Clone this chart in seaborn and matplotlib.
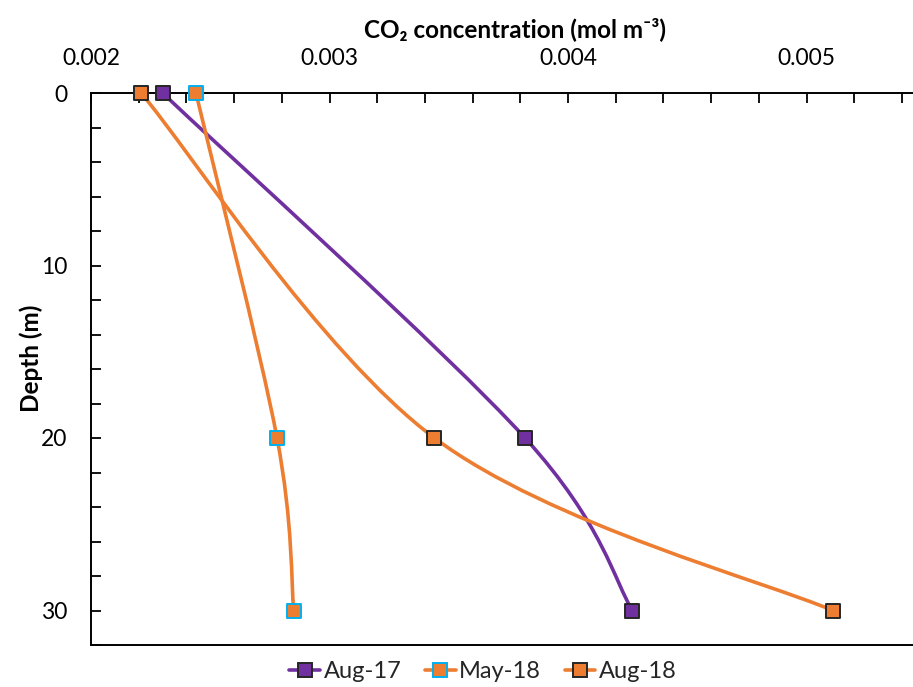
import numpy as np
import pandas as pd
import seaborn as sns
import matplotlib.pyplot as plt
from matplotlib.path import Path
from matplotlib.patches import PathPatch
from matplotlib.lines import Line2D
from matplotlib.ticker import MultipleLocator, FormatStrFormatter

# Depth profiles of dissolved CO2
depth = [0, 20, 30]
aug17 = [0.00230, 0.00382, 0.00427]
may18 = [0.00244, 0.00278, 0.00285]
aug18 = [0.00221, 0.00344, 0.00511]
series_names = ["Aug-17", "May-18", "Aug-18"]
x_ticks = [0.002, 0.003, 0.004, 0.005]
y_ticks = [0, 10, 20, 30]

PURPLE = "#7030A0"
ORANGE = "#ED7D31"
CYAN = "#00B0F0"
EDGE = "#262626"

styles = {
    "Aug-17": dict(line=PURPLE, face=PURPLE, edge=EDGE),
    "May-18": dict(line=ORANGE, face=ORANGE, edge=CYAN),
    "Aug-18": dict(line=ORANGE, face=ORANGE, edge=EDGE),
}

df = pd.DataFrame({
    "series": np.repeat(series_names, len(depth)),
    "depth": depth * 3,
    "co2": aug17 + may18 + aug18,
})

sns.set_theme(style="white")
plt.rcParams["font.family"] = ["Lato", "DejaVu Sans"]

fig = plt.figure(figsize=(9.13, 6.87), dpi=100)
ax = fig.add_axes([91 / 913, 1 - 645 / 687, 1 - 91 / 913, (645 - 93) / 687])


def smooth_path(xs, ys):
    """Cubic Bezier path through the points (Catmull-Rom style tangents)."""
    pts = np.column_stack([xs, ys]).astype(float)
    n = len(pts)
    verts, codes = [pts[0]], [Path.MOVETO]
    for i in range(n - 1):
        p0 = pts[max(i - 1, 0)]
        p1, p2 = pts[i], pts[i + 1]
        p3 = pts[min(i + 2, n - 1)]
        c1 = p1 + (p2 - p0) / 6.0
        c2 = p2 - (p3 - p1) / 6.0
        verts += [c1, c2, p2]
        codes += [Path.CURVE4] * 3
    return Path(verts, codes)


for name in series_names:
    sub = df[df["series"] == name]
    st = styles[name]
    ax.add_patch(PathPatch(smooth_path(sub["co2"].values, sub["depth"].values),
                           facecolor="none", edgecolor=st["line"], lw=2.6,
                           capstyle="round", zorder=2))

for name in series_names:
    sub = df[df["series"] == name]
    st = styles[name]
    sns.scatterplot(data=sub, x="co2", y="depth", ax=ax, marker="s", s=115,
                    color=st["face"], edgecolor=st["edge"], linewidth=1.4,
                    zorder=3, legend=False, clip_on=False)

ax.set_xlim(0.002, 0.002 + 822 / 238.5 * 0.001)
ax.set_ylim(32, 0)
ax.xaxis.tick_top()
ax.xaxis.set_label_position("top")
ax.set_xticks(x_ticks)
ax.xaxis.set_major_formatter(FormatStrFormatter("%.3f"))
ax.xaxis.set_minor_locator(MultipleLocator(0.0002))
ax.set_yticks(y_ticks)
ax.yaxis.set_minor_locator(MultipleLocator(2))

ax.tick_params(axis="x", which="both", direction="in", length=7, width=1.3,
               color="black", top=True, bottom=False, labelsize=16.5, pad=17,
               labelcolor="black")
ax.tick_params(axis="y", which="both", direction="in", length=7, width=1.3,
               color="black", left=True, right=False, labelsize=16.5, pad=17,
               labelcolor="black")

for side in ["top", "left", "bottom"]:
    ax.spines[side].set_visible(True)
    ax.spines[side].set_color("black")
    ax.spines[side].set_linewidth(1.4)
ax.spines["right"].set_visible(False)

ax.set_xlabel("CO\u2082 concentration (mol m\u207b\u00b3)", fontsize=17.5,
              fontweight="bold", color="black")
ax.xaxis.set_label_coords(0.516, 1.0 + (93 - 41) / 552)
ax.set_ylabel("Depth (m)", fontsize=17.5, fontweight="bold", color="black")
ax.yaxis.set_label_coords(-(91 - 31) / 822, 0.52)
ax.xaxis.label.set_va("bottom")
ax.yaxis.label.set_va("center")

handles = [
    Line2D([0], [0], color=styles[n]["line"], lw=2.6, marker="s", markersize=10.5,
           markerfacecolor=styles[n]["face"], markeredgecolor=styles[n]["edge"],
           markeredgewidth=1.4)
    for n in series_names
]
fig.legend(handles, series_names, loc="center", bbox_to_anchor=(483 / 913, 1 - 672 / 687),
           ncol=3, frameon=False, fontsize=17, handlelength=1.3, handletextpad=0.15,
           columnspacing=1.0)

fig.savefig("out.png", dpi=100)
